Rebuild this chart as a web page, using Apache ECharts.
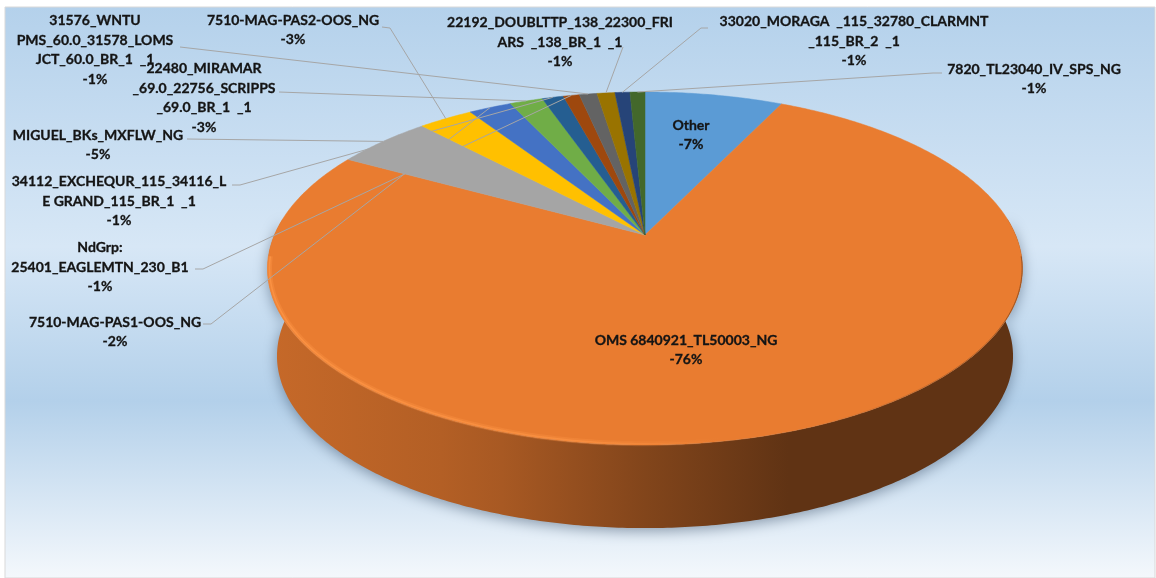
<!DOCTYPE html>
<html><head><meta charset="utf-8">
<style>html,body{margin:0;padding:0;background:#fff}#c{width:1156px;height:578px}</style>
<script src="https://cdn.jsdelivr.net/npm/echarts@6/dist/echarts.min.js"></script>
</head><body><div id="c"></div>
<script>
// Slices clockwise from 12 o'clock
const names = ['Other','OMS 6840921_TL50003_NG','MIGUEL_BKs_MXFLW_NG','7510-MAG-PAS2-OOS_NG','7510-MAG-PAS1-OOS_NG','22480_MIRAMAR_69.0_22756_SCRIPPS_69.0_BR_1 _1','34112_EXCHEQUR_115_34116_LE GRAND_115_BR_1 _1','NdGrp: 25401_EAGLEMTN_230_B1','31576_WNTUPMS_60.0_31578_LOMSJCT_60.0_BR_1 _1','22192_DOUBLTTP_138_22300_FRIARS _138_BR_1 _1','33020_MORAGA _115_32780_CLARMNT_115_BR_2 _1','7820_TL23040_IV_SPS_NG'];
const values = [7.1,75.95,4.95,2.8,2.2,1.7,1.1,0.83,0.91,0.92,0.77,0.77];
const labelTexts = [
 'Other\n-7%',
 'OMS 6840921_TL50003_NG\n-76%',
 'MIGUEL_BKs_MXFLW_NG\n-5%',
 '7510-MAG-PAS2-OOS_NG\n-3%',
 '7510-MAG-PAS1-OOS_NG\n-2%',
 '22480_MIRAMAR\n_69.0_22756_SCRIPPS\n_69.0_BR_1  _1\n-3%',
 '34112_EXCHEQUR_115_34116_L\nE GRAND_115_BR_1  _1\n-1%',
 'NdGrp:\n25401_EAGLEMTN_230_B1\n-1%',
 '31576_WNTU\nPMS_60.0_31578_LOMS\nJCT_60.0_BR_1  _1\n-1%',
 '22192_DOUBLTTP_138_22300_FRI\nARS  _138_BR_1  _1\n-1%',
 '33020_MORAGA  _115_32780_CLARMNT\n_115_BR_2  _1\n-1%',
 '7820_TL23040_IV_SPS_NG\n-1%'];
const colors = ['#5B9BD5','#E97C30','#A5A5A5','#FFC000','#4472C4','#70AD47','#255E91','#9E480E','#636363','#997300','#264478','#43682B'];
// label layout (centre x, centre y), separate from the data
const labelPos = [[691,135],[686,350],[98,145],[293,30],[115,332],[204,98],[119,201],[100,267],[95,50],[560,42],[854,41],[1034,79]];
// leader start points (null = no leader)
const leaderStart = [null,null,[[187,139]],[[382,27],[390,28]],[[203,324],[211,324]],[[279,92]],[[232,185],[240,185]],[[195,269],[203,269]],[[180,47]],[[623,47]],[[708,28],[701,28]],[[942,73],[933,73]]];

// perspective projection of the tilted pie disc
const P = {cx:645, apexY:235, c:0.1898, b:-125.54, d:370.6, ecy:268.5, bs:0.975, shift:87.5};
function rim(th,k){ // th in radians clockwise from top
  const s=(k===undefined?1:k), u=Math.sin(th)*s, v=Math.cos(th)*s, w=1+P.c*v;
  return [P.cx+P.d*u/w, (P.apexY+P.b*v)/w];
}
function lower(p){ return [P.cx+(p[0]-P.cx)*P.bs, P.ecy+P.shift+(p[1]-P.ecy)*P.bs]; }
const total = values.reduce((a,b)=>a+b,0);
function angles(i){
  let s=0; for(let k=0;k<i;k++) s+=values[k];
  return [s/total*2*Math.PI,(s+values[i])/total*2*Math.PI];
}
function arcThetas(a0,a1){
  const n=Math.max(2,Math.ceil((a1-a0)/0.01)),r=[];
  for(let i=0;i<=n;i++) r.push(a0+(a1-a0)*i/n);
  return r;
}
function hex(c){return [1,3,5].map(i=>parseInt(c.substr(i,2),16));}
function shade(c,f){const h=hex(c);return 'rgb('+h.map(x=>Math.round(x*f)).join(',')+')';}
function wallFill(c){
  const st=[[0,.85],[.23,.77],[.31,.72],[.5,.56],[.69,.41],[1,.41]];
  return {type:'linear',x:268,y:0,x2:1022,y2:0,global:true,colorStops:st.map(s=>({offset:s[0],color:shade(c,s[1])}))};
}
function frontThetas(i,lim){
  const [a0,a1]=angles(i);
  return arcThetas(a0,a1).filter(t=>Math.cos(t)<lim);
}
function renderWall(params,api){
  const i=params.dataIndex, ts=frontThetas(i,0.1);
  if(ts.length<2) return null;
  const top=ts.map(t=>rim(t)), bot=top.map(lower).reverse();
  return {type:'polygon',shape:{points:top.concat(bot)},
    style:{fill:wallFill(colors[i]),shadowBlur:14,shadowColor:'rgba(50,70,95,0.5)',shadowOffsetY:3}};
}
function renderTop(params,api){
  const i=params.dataIndex, [a0,a1]=angles(i);
  const pts=[rim(0,0)].concat(arcThetas(a0,a1).map(t=>rim(t)));
  return {type:'polygon',shape:{points:pts},style:{fill:colors[i],stroke:colors[i],lineWidth:0.5}};
}
function renderBevel(params,api){
  const i=params.dataIndex, ts=frontThetas(i,-0.12);
  if(ts.length<2) return null;
  const light=(a)=>({type:'linear',x:268,y:0,x2:1022,y2:0,global:true,colorStops:[
    {offset:0,color:'rgba(255,150,70,'+a+')'},{offset:.42,color:'rgba(255,150,70,'+a*0.8+')'},
    {offset:.6,color:'rgba(255,150,70,0)'},{offset:1,color:'rgba(255,150,70,0)'}]});
  const dark={type:'linear',x:268,y:0,x2:1022,y2:0,global:true,colorStops:[
    {offset:0,color:'rgba(120,65,25,0)'},{offset:.72,color:'rgba(120,65,25,0)'},{offset:1,color:'rgba(90,48,20,0.5)'}]};
  const pts=ts.map(t=>rim(t,0.995)), edge=ts.map(t=>rim(t,0.999));
  return {type:'group',children:[
    {type:'polyline',shape:{points:pts},style:{fill:null,stroke:light(.35),lineWidth:5}},
    {type:'polyline',shape:{points:pts},style:{fill:null,stroke:light(.7),lineWidth:1.5}},
    {type:'polyline',shape:{points:edge},style:{fill:null,stroke:dark,lineWidth:1}}
  ]};
}
function renderLeader(params,api){
  const i=params.dataIndex; if(!leaderStart[i]) return null;
  const [a0,a1]=angles(i);
  return {type:'polyline',shape:{points:leaderStart[i].concat([rim((a0+a1)/2)])},style:{fill:null,stroke:'#A6A6A6',lineWidth:1}};
}
function renderLabel(params,api){
  const i=params.dataIndex;
  return {type:'text',style:{text:labelTexts[i],x:labelPos[i][0],y:labelPos[i][1],align:'center',verticalAlign:'middle',
    fontFamily:'Lato, Carlito, sans-serif',fontWeight:700,fontSize:14,lineHeight:19.4,fill:'#141414',stroke:'#141414',lineWidth:0.3}};
}
const data=values.map((v,i)=>({name:names[i],value:v}));
const mk=(r,z)=>({type:'custom',coordinateSystem:'none',renderItem:r,data:data,z:z,silent:true,animation:false,clip:false});
const chart=echarts.init(document.getElementById('c'),null,{renderer:'canvas'});
chart.setOption({
  animation:false,
  backgroundColor:'#fff',
  graphic:[{type:'rect',z:-10,shape:{x:5,y:7,width:1150,height:571},
    style:{stroke:'#D9D9D9',lineWidth:1,fill:{type:'linear',x:0,y:0,x2:0,y2:1,colorStops:[
      {offset:0,color:'#B4D1EB'},{offset:.42,color:'#D7E7F6'},{offset:.69,color:'#B3D0EA'},{offset:1,color:'#F4F8FC'}]}}}],
  series:[mk(renderWall,2),mk(renderTop,3),mk(renderBevel,4),mk(renderLeader,5),mk(renderLabel,6)]
});
</script></body></html>
